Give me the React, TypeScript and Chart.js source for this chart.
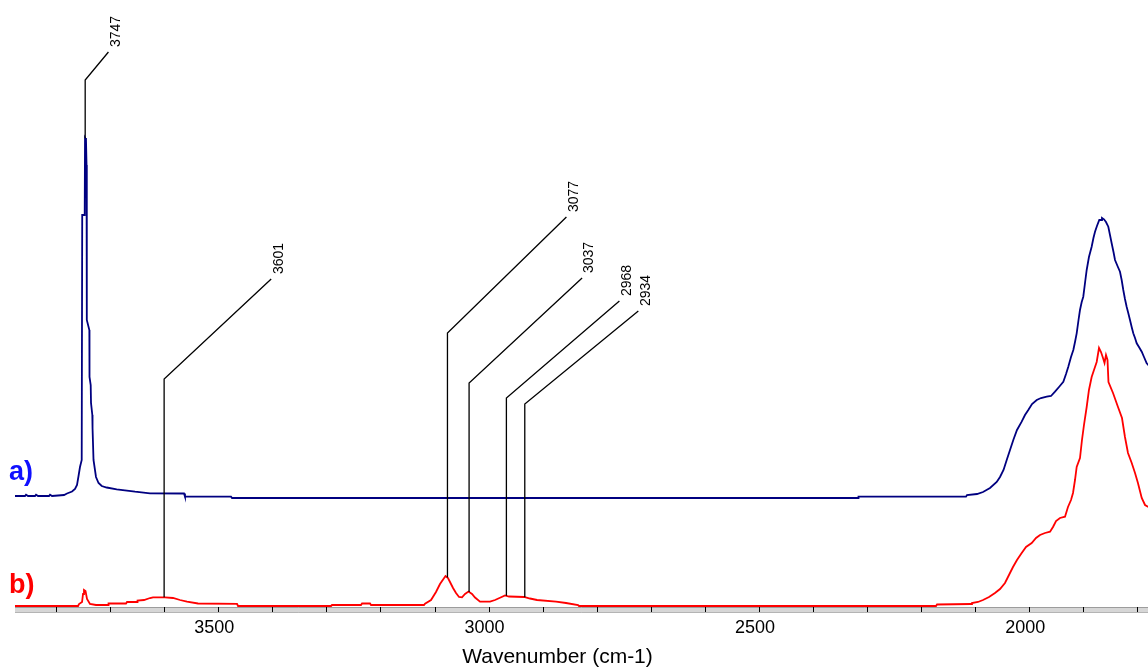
import { useEffect, useRef } from 'react';
import { Chart, registerables } from 'chart.js';

Chart.register(...registerables);

// ---- axis ----
const X_MIN = 1781.4;
const X_MAX = 3876.8;
const TICK_VALUES = [3800, 3700, 3600, 3500, 3400, 3300, 3200, 3100, 3000, 2900, 2800, 2700, 2600, 2500, 2400, 2300, 2200, 2100, 2000, 1900, 1800];
const TICK_LABELS = [3500, 3000, 2500, 2000];
const X_TITLE = 'Wavenumber (cm-1)';
const Y_MIN = -0.01;
const Y_MAX = 6.06;

// ---- trace a) (blue) ----
const OFFSET_A = 1.08;
const WN_A = [
  3876.8, 3858.3, 3856.4, 3852.7, 3839.8, 3837.9, 3834.2, 3813.9, 3812.0, 3808.3,
  3786.1, 3780.6, 3771.3, 3765.8, 3762.1, 3759.3, 3756.6, 3753.4, 3752.5, 3747.9,
  3747.3, 3745.5, 3744.5, 3744.0, 3739.3, 3739.0, 3736.8, 3736.2, 3733.8, 3733.4,
  3731.6, 3727.0, 3722.3, 3716.4, 3707.2, 3688.7, 3654.8, 3627.1, 3564.2, 3562.4,
  3477.3, 3475.4, 2317.7, 2316.8, 2118.0, 2116.1, 2097.6, 2086.5, 2073.6, 2061.2,
  2055.1, 2048.6, 2042.7, 2036.6, 2030.5, 2023.7, 2015.0, 2008.9, 2002.8, 1995.9,
  1987.2, 1979.3, 1968.7, 1960.8, 1953.4, 1946.0, 1938.0, 1933.0, 1928.8, 1923.8,
  1919.5, 1916.4, 1913.3, 1909.9, 1907.2, 1904.0, 1901.1, 1897.9, 1894.8, 1890.6,
  1885.6, 1882.3, 1879.4, 1875.8, 1871.5, 1867.4, 1866.5, 1862.8, 1859.1, 1854.8,
  1851.7, 1848.6, 1845.2, 1842.4, 1837.8, 1833.2, 1830.1, 1827.1, 1824.0, 1820.9,
  1817.9, 1814.7, 1811.6, 1808.6, 1805.4, 1802.3, 1798.1, 1793.0, 1788.8, 1783.8,
  1777.7,
];
const ABS_A = [
  0.02, 0.02, 0.033, 0.02, 0.02, 0.033, 0.02, 0.02, 0.033, 0.02,
  0.03, 0.045, 0.065, 0.09, 0.13, 0.22, 0.31, 0.38, 2.83, 2.83,
  3.60, 3.58, 3.33, 1.78, 1.68, 1.21, 1.13, 0.95, 0.83, 0.70,
  0.38, 0.21, 0.15, 0.12, 0.105, 0.087, 0.063, 0.047, 0.045, 0.013,
  0.013, 0, 0, 0.013, 0.013, 0.03, 0.04, 0.06, 0.10, 0.16,
  0.21, 0.28, 0.38, 0.48, 0.58, 0.68, 0.763, 0.83, 0.88, 0.94,
  0.98, 1.00, 1.013, 1.02, 1.063, 1.11, 1.163, 1.24, 1.313, 1.41,
  1.48, 1.56, 1.647, 1.78, 1.88, 1.96, 2.013, 2.15, 2.28, 2.41,
  2.513, 2.60, 2.663, 2.72, 2.78, 2.78, 2.80, 2.787, 2.76, 2.713,
  2.63, 2.547, 2.46, 2.38, 2.32, 2.263, 2.18, 2.08, 1.99, 1.913,
  1.85, 1.78, 1.71, 1.647, 1.60, 1.547, 1.51, 1.463, 1.41, 1.347,
  1.31,
];

// ---- trace b) (red) ----
const WN_B = [
  3876.8, 3760.2, 3758.4, 3752.8, 3751.0, 3749.2, 3746.4, 3743.6, 3738.1, 3727.0,
  3704.8, 3703.8, 3671.5, 3669.6, 3651.1, 3650.2, 3638.2, 3627.1, 3621.5, 3599.3,
  3584.6, 3571.6, 3558.7, 3538.3, 3466.2, 3464.3, 3292.3, 3290.5, 3236.9, 3235.0,
  3220.2, 3218.4, 3120.4, 3118.5, 3107.4, 3098.2, 3090.8, 3080.6, 3076.0, 3072.3,
  3066.7, 3061.2, 3055.6, 3050.1, 3044.5, 3038.1, 3031.6, 3026.0, 3016.8, 2998.3,
  2989.0, 2979.8, 2970.5, 2963.2, 2935.4, 2924.3, 2911.4, 2876.2, 2857.7, 2835.5,
  2833.7, 2173.5, 2171.6, 2108.7, 2106.9, 2095.8, 2086.5, 2075.4, 2064.4, 2055.1,
  2045.9, 2038.5, 2031.1, 2023.7, 2015.0, 2007.0, 1996.5, 1988.5, 1981.1, 1971.9,
  1962.6, 1957.1, 1951.5, 1944.2, 1934.9, 1929.4, 1923.8, 1920.1, 1916.4, 1913.3,
  1907.2, 1903.5, 1899.8, 1894.8, 1890.6, 1885.6, 1881.3, 1876.3, 1872.0, 1868.3,
  1864.6, 1861.8, 1859.1, 1856.3, 1854.5, 1846.1, 1836.9, 1829.5, 1824.0, 1818.4,
  1811.5, 1805.4, 1800.0, 1793.0, 1786.9, 1777.7,
];
const ABS_B = [
  0, 0, 0.02, 0.04, 0.12, 0.16, 0.15, 0.07, 0.02, 0.01,
  0.01, 0.025, 0.025, 0.04, 0.04, 0.055, 0.06, 0.08, 0.087, 0.087,
  0.08, 0.06, 0.043, 0.025, 0.022, 0, 0, 0.01, 0.01, 0.025,
  0.025, 0.01, 0.01, 0.023, 0.06, 0.14, 0.22, 0.30, 0.28, 0.24,
  0.18, 0.13, 0.09, 0.087, 0.12, 0.145, 0.12, 0.085, 0.043, 0.043,
  0.06, 0.083, 0.105, 0.095, 0.09, 0.075, 0.06, 0.043, 0.03, 0.01,
  0, 0, 0.015, 0.02, 0.03, 0.04, 0.06, 0.09, 0.13, 0.17,
  0.23, 0.31, 0.39, 0.46, 0.53, 0.59, 0.63, 0.68, 0.71, 0.73,
  0.743, 0.79, 0.85, 0.88, 0.893, 0.99, 1.06, 1.13, 1.26, 1.39,
  1.48, 1.66, 1.81, 1.99, 2.16, 2.29, 2.36, 2.44, 2.58, 2.54,
  2.48, 2.43, 2.51, 2.46, 2.24, 2.13, 1.99, 1.88, 1.69, 1.53,
  1.43, 1.33, 1.23, 1.08, 1.01, 0.98,
];

// ---- peak annotations ----
const PEAK_WN = [3747, 3601, 3077, 3037, 2968, 2934];
const PEAK_TRACE = ['a', 'b', 'b', 'b', 'b', 'b'];
const LEADER_CORNER_Y = [5.26, 2.27, 2.73, 2.23, 2.08, 2.02];
const LEADER_END_WN = [3704, 3403, 2857, 2828, 2759, 2724];
const LEADER_END_Y = [5.54, 3.27, 3.89, 3.28, 3.05, 2.95];

const TRACE_LABELS = ['a)', 'b)'];

function valueAt(wns: number[], vals: number[], w: number): number {
  for (let i = 0; i < wns.length - 1; i++) {
    const a = wns[i];
    const b = wns[i + 1];
    if (a >= w && w >= b) {
      if (a === b) return Math.max(vals[i], vals[i + 1]);
      const t = (a - w) / (a - b);
      return vals[i] + t * (vals[i + 1] - vals[i]);
    }
  }
  return vals[vals.length - 1];
}

const FONT = '"Liberation Sans", Arial, sans-serif';

const decorPlugin = {
  id: 'decor',
  beforeDraw(chart: any) {
    const { ctx, chartArea } = chart;
    const w = chartArea.right - chartArea.left;
    const b = chartArea.bottom;
    ctx.save();
    ctx.fillStyle = '#d6d6d6';
    ctx.fillRect(chartArea.left, b, w, 6);
    ctx.lineWidth = 1;
    ctx.strokeStyle = '#9c9c9c';
    ctx.beginPath();
    ctx.moveTo(chartArea.left, b + 0.5);
    ctx.lineTo(chartArea.right, b + 0.5);
    ctx.stroke();
    ctx.strokeStyle = '#b4b4b4';
    ctx.beginPath();
    ctx.moveTo(chartArea.left, b + 5.5);
    ctx.lineTo(chartArea.right, b + 5.5);
    ctx.stroke();
    ctx.restore();
  },
  afterDatasetsDraw(chart: any) {
    const { ctx, chartArea } = chart;
    const xs = chart.scales.x;
    const ys = chart.scales.y;
    ctx.save();
    // leader lines + labels
    ctx.strokeStyle = '#000';
    ctx.lineWidth = 1.3;
    ctx.fillStyle = '#000';
    ctx.font = `14px ${FONT}`;
    PEAK_WN.forEach((wn, i) => {
      const v = PEAK_TRACE[i] === 'a'
        ? valueAt(WN_A, ABS_A, wn) + OFFSET_A
        : valueAt(WN_B, ABS_B, wn);
      const px = xs.getPixelForValue(wn);
      const py = ys.getPixelForValue(v);
      const cy = ys.getPixelForValue(LEADER_CORNER_Y[i]);
      const ex = xs.getPixelForValue(LEADER_END_WN[i]);
      const ey = ys.getPixelForValue(LEADER_END_Y[i]);
      ctx.beginPath();
      ctx.moveTo(px, py);
      ctx.lineTo(px, cy);
      ctx.lineTo(ex, ey);
      ctx.stroke();
      ctx.save();
      ctx.translate(ex + 7.5, ey - 5);
      ctx.rotate(-Math.PI / 2);
      ctx.textAlign = 'left';
      ctx.textBaseline = 'middle';
      ctx.fillText(String(wn), 0, 0);
      ctx.restore();
    });
    // trace labels
    ctx.font = `bold 27px ${FONT}`;
    ctx.textAlign = 'left';
    ctx.textBaseline = 'alphabetic';
    ctx.fillStyle = '#1010ff';
    ctx.fillText(TRACE_LABELS[0], chartArea.left - 6, ys.getPixelForValue(OFFSET_A) - 18);
    ctx.fillStyle = '#ff0000';
    ctx.fillText(TRACE_LABELS[1], chartArea.left - 6, ys.getPixelForValue(0) - 13);
    ctx.restore();
  },
  afterDraw(chart: any) {
    const { ctx, chartArea } = chart;
    ctx.save();
    ctx.fillStyle = '#000';
    ctx.font = `21px ${FONT}`;
    ctx.textAlign = 'center';
    ctx.textBaseline = 'middle';
    ctx.fillText(X_TITLE, chartArea.left + 542.5, chartArea.bottom + 50);
    ctx.restore();
  },
};

export default function App() {
  const ref = useRef<HTMLCanvasElement>(null);
  useEffect(() => {
    if (!ref.current) return;
    const chart = new Chart(ref.current, {
      type: 'line',
      data: {
        datasets: [
          {
            label: 'a)',
            data: WN_A.map((x, i) => ({ x, y: ABS_A[i] + OFFSET_A })),
            borderColor: '#000080',
            borderWidth: 1.8,
            pointRadius: 0,
            tension: 0,
            fill: false,
          },
          {
            label: 'b)',
            data: WN_B.map((x, i) => ({ x, y: ABS_B[i] })),
            borderColor: '#ff0000',
            borderWidth: 1.8,
            pointRadius: 0,
            tension: 0,
            fill: false,
          },
        ],
      },
      options: {
        animation: false,
        responsive: false,
        devicePixelRatio: 1,
        layout: { padding: { left: 15, right: 0, top: 0, bottom: 0 } },
        plugins: {
          legend: { display: false },
          tooltip: { enabled: false },
        },
        scales: {
          x: {
            type: 'linear',
            reverse: true,
            min: X_MIN,
            max: X_MAX,
            position: 'bottom',
            afterBuildTicks: (s: any) => {
              s.ticks = TICK_VALUES.map((v) => ({ value: v }));
            },
            afterFit: (s: any) => {
              s.height = 60;
            },
            ticks: {
              autoSkip: false,
              maxRotation: 0,
              minRotation: 0,
              includeBounds: false,
              padding: 5,
              labelOffset: -4.5,
              color: '#000',
              font: { family: FONT, size: 18 },
              callback: (v: any) => (TICK_LABELS.includes(Number(v)) ? String(v) : ''),
            },
            grid: {
              display: true,
              drawOnChartArea: false,
              drawTicks: true,
              tickLength: 5,
              tickColor: '#000',
              tickWidth: 1,
            },
            border: { display: false },
          },
          y: {
            type: 'linear',
            display: false,
            min: Y_MIN,
            max: Y_MAX,
          },
        },
      },
      plugins: [decorPlugin],
    } as any);
    return () => chart.destroy();
  }, []);
  return (
    <div style={{ position: 'absolute', left: 0, top: 0, width: 1148, height: 667 }}>
      <canvas ref={ref} width={1148} height={667} style={{ display: 'block', width: 1148, height: 667 }} />
    </div>
  );
}
